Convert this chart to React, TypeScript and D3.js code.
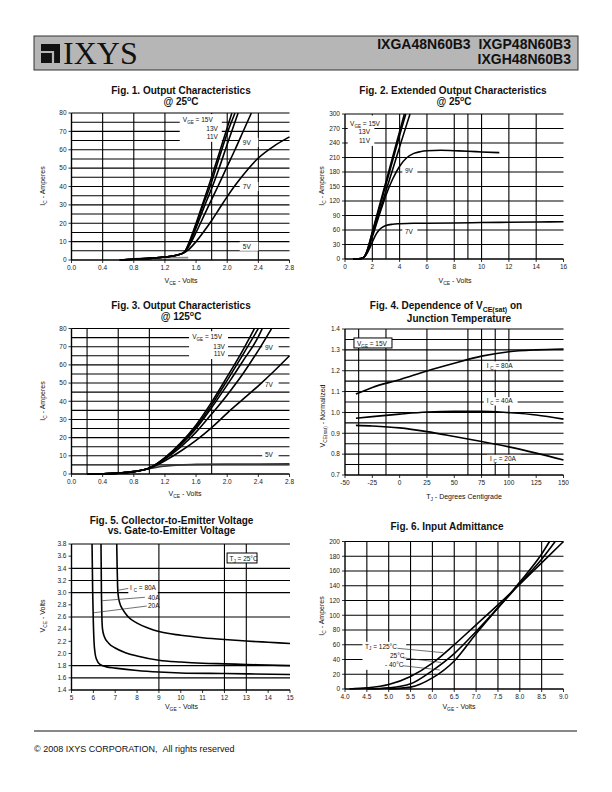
import React from "react";
import * as d3 from "d3";

type Pt = [number, number];
type Part = [string, "n" | "s" | "p"];
type Sc = d3.ScaleLinear<number, number>;

const SANS = "'Liberation Sans', Arial, Helvetica, sans-serif";

// ---------- Fig. 1  Output characteristics @ 25C ----------
const fig1XTicks = [0, 0.4, 0.8, 1.2, 1.6, 2.0, 2.4, 2.8];
const fig1YTicks = [0, 10, 20, 30, 40, 50, 60, 70, 80];
const fig1VGrid = [0.4, 0.8, 1.2, 1.8, 2.0, 2.4];
const fig1HGrid = [5, 10, 15, 20, 25, 30, 35, 40, 45, 50, 55, 60, 65, 70, 75, 80];
const fig1V15: Pt[] = [[0.62, 0], [0.8, 0.4], [1.0, 0.9], [1.2, 1.6], [1.35, 2.6], [1.45, 4.3], [1.5, 8.5], [1.6, 20], [1.7, 32.5], [1.76, 40], [1.9, 58.5], [2.0, 72], [2.06, 80]];
const fig1V13: Pt[] = [[0.62, 0], [0.8, 0.4], [1.0, 0.9], [1.2, 1.6], [1.35, 2.6], [1.45, 4.3], [1.5, 8], [1.6, 19], [1.7, 31], [1.78, 40], [1.9, 56], [2.0, 69], [2.1, 80]];
const fig1V11: Pt[] = [[0.62, 0], [0.8, 0.4], [1.0, 0.9], [1.2, 1.6], [1.35, 2.6], [1.45, 4.3], [1.5, 7.5], [1.6, 17.5], [1.7, 28.5], [1.81, 40], [1.9, 50.5], [2.0, 63], [2.14, 80]];
const fig1V9: Pt[] = [[0.62, 0], [0.8, 0.4], [1.0, 0.9], [1.2, 1.6], [1.35, 2.6], [1.45, 4.3], [1.5, 7], [1.6, 15], [1.7, 24], [1.8, 33], [1.88, 40], [2.0, 51], [2.1, 60], [2.2, 69.5], [2.31, 80]];
const fig1V7: Pt[] = [[0.62, 0], [0.8, 0.4], [1.0, 0.9], [1.2, 1.6], [1.35, 2.6], [1.45, 4], [1.5, 5.5], [1.6, 10], [1.7, 15.5], [1.8, 21.5], [1.9, 28], [2.0, 34.5], [2.1, 40.5], [2.2, 46], [2.4, 55.5], [2.6, 62], [2.8, 67]];
const fig1V5: Pt[] = [[0.62, 0], [0.9, 0.9], [1.2, 1.2], [1.5, 1.3]];

// ---------- Fig. 2  Extended output characteristics @ 25C ----------
const fig2XTicks = [0, 2, 4, 6, 8, 10, 12, 14, 16];
const fig2YTicks = [0, 30, 60, 90, 120, 150, 180, 210, 240, 270, 300];
const fig2VGrid = [2, 3, 4, 6, 8, 9, 10, 12, 14];
const fig2HGrid = [30, 60, 90, 120, 150, 180, 210, 240, 270, 300];
const fig2V15: Pt[] = [[0.6, 0], [1.0, 0.5], [1.3, 2], [1.45, 6], [1.6, 16], [2.0, 56], [2.5, 108], [3.0, 160], [3.5, 212], [4.0, 264], [4.35, 300]];
const fig2V13: Pt[] = [[0.6, 0], [1.0, 0.5], [1.3, 2], [1.45, 6], [1.6, 15], [2.0, 54], [2.5, 104], [3.0, 154], [3.5, 205], [4.0, 256], [4.45, 300]];
const fig2V11: Pt[] = [[0.6, 0], [1.0, 0.5], [1.3, 2], [1.45, 6], [1.6, 14], [2.0, 50], [2.5, 95], [3.0, 141], [3.5, 186], [4.0, 232], [4.5, 277], [4.76, 300]];
const fig2V9: Pt[] = [[0.6, 0], [1.0, 0.5], [1.3, 2], [1.45, 6], [1.6, 13], [2.0, 46], [2.5, 90], [3.0, 132], [3.5, 166], [4.0, 192], [4.5, 209], [5.0, 218], [5.5, 222], [6.0, 224], [7.0, 225], [8.0, 224], [9.0, 223], [10.0, 221.5], [11.3, 220]];
const fig2V7: Pt[] = [[0.6, 0], [1.0, 0.5], [1.3, 2], [1.45, 5.5], [1.6, 11], [1.8, 22], [2.0, 35], [2.25, 50], [2.5, 60], [2.75, 66], [3.0, 69.5], [3.5, 72], [4.0, 73], [5.0, 74], [6.0, 74], [8.0, 74.5], [10, 75.5], [12, 76], [14, 76.5], [16, 77]];

// ---------- Fig. 3  Output characteristics @ 125C ----------
const fig3XTicks = [0, 0.4, 0.8, 1.2, 1.6, 2.0, 2.4, 2.8];
const fig3YTicks = [0, 10, 20, 30, 40, 50, 60, 70, 80];
const fig3VGrid = [0.2, 0.6, 1.0, 1.8];
const fig3HGrid = [5, 10, 15, 20, 25, 30, 35, 40, 45, 50, 55, 60, 65, 70, 75, 80];
const fig3V15: Pt[] = [[0.2, 0], [0.4, 0.15], [0.6, 0.5], [0.8, 1.3], [1.0, 3.3], [1.1, 5.8], [1.2, 9], [1.4, 17], [1.6, 27], [1.8, 39.5], [2.0, 53.5], [2.2, 68], [2.35, 80]];
const fig3V13: Pt[] = [[0.2, 0], [0.4, 0.15], [0.6, 0.5], [0.8, 1.3], [1.0, 3.3], [1.1, 5.7], [1.2, 8.8], [1.4, 16.5], [1.6, 26], [1.8, 38], [2.0, 51.5], [2.2, 65.5], [2.4, 80]];
const fig3V11: Pt[] = [[0.2, 0], [0.4, 0.15], [0.6, 0.5], [0.8, 1.3], [1.0, 3.3], [1.1, 5.6], [1.2, 8.6], [1.4, 16], [1.6, 25], [1.8, 36.5], [2.0, 49], [2.2, 62], [2.4, 75.5], [2.45, 80]];
const fig3V9: Pt[] = [[0.2, 0], [0.4, 0.15], [0.6, 0.5], [0.8, 1.3], [1.0, 3.3], [1.1, 5.4], [1.2, 8.2], [1.4, 14.8], [1.6, 23], [1.8, 33], [2.0, 43.5], [2.2, 55], [2.4, 68], [2.57, 80]];
const fig3V7: Pt[] = [[0.2, 0], [0.4, 0.15], [0.6, 0.5], [0.8, 1.3], [1.0, 3.2], [1.1, 5], [1.2, 7.3], [1.4, 12.5], [1.6, 18.5], [1.8, 25.5], [2.0, 33.5], [2.2, 41], [2.4, 48.5], [2.6, 56.5], [2.8, 65]];
const fig3V5: Pt[] = [[0.2, 0], [0.4, 0.15], [0.6, 0.5], [0.8, 1.3], [1.0, 3.0], [1.1, 3.8], [1.2, 4.3], [1.4, 5.0], [1.6, 5.3], [2.0, 5.5], [2.4, 5.5], [2.8, 5.6]];

// ---------- Fig. 4  VCE(sat) vs junction temperature ----------
const fig4XTicks = [-50, -25, 0, 25, 50, 75, 100, 125, 150];
const fig4YTicks = [0.7, 0.8, 0.9, 1.0, 1.1, 1.2, 1.3, 1.4];
const fig4VGrid = [-37.5, -12.5, 25, 62.5, 75, 87.5, 100];
const fig4HGrid = [0.75, 0.8, 0.85, 0.9, 0.95, 1.0, 1.05, 1.1, 1.15, 1.2, 1.25, 1.3, 1.35, 1.4];
const fig4I80: Pt[] = [[-40, 1.088], [-25, 1.12], [0, 1.157], [25, 1.199], [50, 1.236], [75, 1.27], [100, 1.291], [125, 1.3], [150, 1.304]];
const fig4I40: Pt[] = [[-40, 0.972], [-25, 0.98], [0, 0.992], [25, 1.002], [50, 1.006], [75, 1.006], [100, 0.999], [125, 0.988], [150, 0.968]];
const fig4I20: Pt[] = [[-40, 0.938], [-25, 0.935], [0, 0.926], [25, 0.908], [50, 0.885], [75, 0.861], [100, 0.835], [125, 0.805], [150, 0.772]];

// ---------- Fig. 5  VCE vs VGE ----------
const fig5XTicks = [5, 6, 7, 8, 9, 10, 11, 12, 13, 14, 15];
const fig5YTicks = [1.4, 1.6, 1.8, 2.0, 2.2, 2.4, 2.6, 2.8, 3.0, 3.2, 3.4, 3.6, 3.8];
const fig5VGrid = [9, 12, 13];
const fig5HGrid = [1.6, 1.8, 2.6, 3.0, 3.2, 3.4, 3.8];
const fig5I80: Pt[] = [[7.07, 3.8], [7.09, 3.4], [7.11, 3.1], [7.14, 2.95], [7.2, 2.84], [7.35, 2.72], [7.6, 2.6], [8.0, 2.5], [8.5, 2.42], [9.0, 2.36], [10, 2.3], [11, 2.26], [12, 2.23], [13, 2.205], [14, 2.185], [15, 2.165]];
const fig5I40: Pt[] = [[6.35, 3.8], [6.37, 3.0], [6.39, 2.6], [6.42, 2.4], [6.5, 2.28], [6.7, 2.17], [7.0, 2.09], [7.5, 2.01], [8.0, 1.96], [9.0, 1.89], [10, 1.86], [11, 1.84], [12, 1.83], [13, 1.82], [14, 1.81], [15, 1.8]];
const fig5I20: Pt[] = [[5.94, 3.8], [5.97, 3.0], [6.0, 2.5], [6.03, 2.2], [6.08, 2.0], [6.15, 1.9], [6.3, 1.82], [6.6, 1.78], [7.0, 1.76], [8.0, 1.72], [9.0, 1.695], [10, 1.68], [12, 1.67], [15, 1.655]];

// ---------- Fig. 6  Input admittance ----------
const fig6XTicks = [4.0, 4.5, 5.0, 5.5, 6.0, 6.5, 7.0, 7.5, 8.0, 8.5, 9.0];
const fig6YTicks = [0, 20, 40, 60, 80, 100, 120, 140, 160, 180, 200];
const fig6VGrid = [4.5, 5.0, 5.5, 6.0, 6.5, 7.0, 7.5, 8.0, 8.5];
const fig6HGrid = [20, 40, 60, 80, 100, 120, 140, 160, 180, 200];
const fig6T125: Pt[] = [[4.1, 0], [4.5, 1.5], [5.0, 6], [5.5, 17], [6.0, 35], [6.5, 60], [7.0, 87], [7.5, 114], [8.0, 142], [8.5, 171], [9.0, 200]];
const fig6T25: Pt[] = [[4.5, 0], [5.0, 1.5], [5.5, 7], [6.0, 25], [6.5, 48], [7.0, 78], [7.5, 110], [8.0, 143], [8.5, 176], [8.81, 200]];
const fig6Tm40: Pt[] = [[5.0, 0], [5.5, 2.5], [6.0, 15], [6.5, 38], [7.0, 75], [7.5, 110], [8.0, 145], [8.5, 183], [8.68, 200]];

const f0 = (v: number) => String(v);
const f1 = (v: number) => v.toFixed(1);

function Txt(props: {
  x?: number; y?: number; parts: Part[]; size?: number; anchor?: string;
  weight?: string; transform?: string; fill?: string;
}) {
  const { x = 0, y = 0, parts, size = 7, anchor = "start", weight = "normal", transform, fill = "#111" } = props;
  let cur = 0;
  const spans = parts.map(([t, k], i) => {
    const target = k === "s" ? size * 0.3 : k === "p" ? -size * 0.4 : 0;
    const dy = target - cur;
    cur = target;
    return (
      <tspan key={i} dy={dy} fontSize={k === "n" ? size : size * 0.7}>
        {t}
      </tspan>
    );
  });
  return (
    <text x={x} y={y} textAnchor={anchor} fontFamily={SANS} fontWeight={weight}
      fontSize={size} transform={transform} fill={fill}>
      {spans}
    </text>
  );
}

function Curve({ data, x, y, clip, color = "#000", w = 1.6 }: {
  data: Pt[]; x: Sc; y: Sc; clip: string; color?: string; w?: number;
}) {
  const gen = d3.line<Pt>().x((d) => x(d[0])).y((d) => y(d[1])).curve(d3.curveMonotoneX);
  return <path d={gen(data) ?? ""} fill="none" stroke={color} strokeWidth={w} clipPath={`url(#${clip})`} />;
}

function WBox({ x, y, x0, x1, y0, y1, stroke }: {
  x: Sc; y: Sc; x0: number; x1: number; y0: number; y1: number; stroke?: string;
}) {
  return (
    <rect x={x(x0)} y={y(y1)} width={x(x1) - x(x0)} height={y(y0) - y(y1)}
      fill="#fff" stroke={stroke ?? "none"} strokeWidth={1} />
  );
}

function Panel(props: {
  id: string; left: number; top: number; width: number; height: number;
  xDomain: [number, number]; yDomain: [number, number];
  xTicks: number[]; yTicks: number[]; xFmt: (v: number) => string; yFmt: (v: number) => string;
  vGrid: number[]; hGrid: number[];
  children: (x: Sc, y: Sc, clip: string) => React.ReactNode;
}) {
  const { id, left, top, width, height, xDomain, yDomain, xTicks, yTicks, xFmt, yFmt, vGrid, hGrid } = props;
  const x = d3.scaleLinear().domain(xDomain).range([left, left + width]);
  const y = d3.scaleLinear().domain(yDomain).range([top + height, top]);
  const bottom = top + height;
  return (
    <g>
      <defs>
        <clipPath id={id}>
          <rect x={left} y={top - 1} width={width + 1} height={height + 2} />
        </clipPath>
      </defs>
      {hGrid.map((v) => (
        <line key={"h" + v} x1={left} x2={left + width} y1={y(v)} y2={y(v)} stroke="#000" strokeWidth={1.1} />
      ))}
      {vGrid.map((v) => (
        <line key={"v" + v} x1={x(v)} x2={x(v)} y1={top} y2={bottom} stroke="#000" strokeWidth={1.1} />
      ))}
      <line x1={left} x2={left} y1={top} y2={bottom} stroke="#000" strokeWidth={1.4} />
      <line x1={left} x2={left + width} y1={bottom} y2={bottom} stroke="#000" strokeWidth={1.4} />
      {yTicks.map((v) => (
        <g key={"yt" + v}>
          <line x1={left - 3} x2={left} y1={y(v)} y2={y(v)} stroke="#000" strokeWidth={0.8} />
          <text x={left - 5} y={y(v)} dy="0.35em" textAnchor="end" fontSize={6.5} fontFamily={SANS} fill="#222">
            {yFmt(v)}
          </text>
        </g>
      ))}
      {xTicks.map((v) => (
        <g key={"xt" + v}>
          <line x1={x(v)} x2={x(v)} y1={bottom} y2={bottom + 3} stroke="#000" strokeWidth={0.8} />
          <text x={x(v)} y={bottom + 10} textAnchor="middle" fontSize={6.5} fontFamily={SANS} fill="#222">
            {xFmt(v)}
          </text>
        </g>
      ))}
      {props.children(x, y, id)}
    </g>
  );
}

export default function App() {
  return (
    <svg width={612} height={792} viewBox="0 0 612 792" style={{ position: "absolute", left: 0, top: 0, background: "#fff" }}>
      {/* header */}
      <rect x={34} y={36} width={544} height={34} fill="#b6b6b6" stroke="#333" strokeWidth={1} />
      <rect x={41} y={44} width={19} height={19} fill="#111" />
      <polyline points="41,52 53,52 53,63" fill="none" stroke="#b6b6b6" strokeWidth={2.2} />
      <text x={63} y={64} fontFamily="'Liberation Serif', 'Times New Roman', serif" fontSize={32} fill="#111">IXYS</text>
      <text x={571} y={49} textAnchor="end" fontFamily={SANS} fontWeight="bold" fontSize={14} fill="#111">
        IXGA48N60B3{"\u00a0\u00a0"}IXGP48N60B3
      </text>
      <text x={571} y={64} textAnchor="end" fontFamily={SANS} fontWeight="bold" fontSize={14} fill="#111">IXGH48N60B3</text>

      {/* Fig 1 */}
      <Txt x={181} y={93.5} anchor="middle" weight="bold" size={10} parts={[["Fig. 1. Output Characteristics", "n"]]} />
      <Txt x={181} y={104.5} anchor="middle" weight="bold" size={10} parts={[["@ 25", "n"], ["o", "p"], ["C", "n"]]} />
      <Panel id="c1" left={71.5} top={113} width={218} height={147} xDomain={[0, 2.8]} yDomain={[0, 80]}
        xTicks={fig1XTicks} yTicks={fig1YTicks} xFmt={f1} yFmt={f0} vGrid={fig1VGrid} hGrid={fig1HGrid}>
        {(x, y, c) => (
          <g>
            <WBox x={x} y={y} x0={1.39} x1={1.93} y0={64.3} y1={79.4} />
            <WBox x={x} y={y} x0={2.16} x1={2.4} y0={61.5} y1={66.5} />
            <WBox x={x} y={y} x0={2.16} x1={2.4} y0={37.5} y1={42.5} />
            <WBox x={x} y={y} x0={2.16} x1={2.4} y0={5} y1={10} />
            <Curve data={fig1V5} x={x} y={y} clip={c} color="#8a8a8a" w={1.6} />
            <Curve data={fig1V7} x={x} y={y} clip={c} />
            <Curve data={fig1V9} x={x} y={y} clip={c} />
            <Curve data={fig1V11} x={x} y={y} clip={c} />
            <Curve data={fig1V13} x={x} y={y} clip={c} />
            <Curve data={fig1V15} x={x} y={y} clip={c} />
            <Txt x={x(1.43)} y={y(75.1)} size={6.5} parts={[["V", "n"], ["GE", "s"], [" = 15V", "n"]]} />
            <Txt x={x(1.88)} y={y(70.2)} size={6.5} anchor="end" parts={[["13V", "n"]]} />
            <Txt x={x(1.88)} y={y(65.9)} size={6.5} anchor="end" parts={[["11V", "n"]]} />
            <Txt x={x(2.2)} y={y(62.6)} size={6.5} parts={[["9V", "n"]]} />
            <Txt x={x(2.2)} y={y(38.6)} size={6.5} parts={[["7V", "n"]]} />
            <Txt x={x(2.2)} y={y(6)} size={6.5} parts={[["5V", "n"]]} />
          </g>
        )}
      </Panel>
      <Txt x={181} y={283} anchor="middle" size={7} parts={[["V", "n"], ["CE", "s"], [" - Volts", "n"]]} />
      <Txt transform="translate(45,186) rotate(-90)" anchor="middle" size={7} parts={[["I", "n"], ["C", "s"], [" - Amperes", "n"]]} />

      {/* Fig 2 */}
      <Txt x={453} y={93.5} anchor="middle" weight="bold" size={10} parts={[["Fig. 2. Extended Output Characteristics", "n"]]} />
      <Txt x={454} y={104.5} anchor="middle" weight="bold" size={10} parts={[["@ 25", "n"], ["o", "p"], ["C", "n"]]} />
      <Panel id="c2" left={345} top={114} width={218.5} height={145} xDomain={[0, 16]} yDomain={[0, 300]}
        xTicks={fig2XTicks} yTicks={fig2YTicks} xFmt={f0} yFmt={f0} vGrid={fig2VGrid} hGrid={fig2HGrid}>
        {(x, y, c) => (
          <g>
            <WBox x={x} y={y} x0={0.2} x1={2.15} y0={234} y1={297} />
            <WBox x={x} y={y} x0={4.2} x1={5.3} y0={174} y1={190} />
            <WBox x={x} y={y} x0={4.2} x1={5.3} y0={47} y1={63} />
            <Curve data={fig2V7} x={x} y={y} clip={c} />
            <Curve data={fig2V9} x={x} y={y} clip={c} />
            <Curve data={fig2V11} x={x} y={y} clip={c} />
            <Curve data={fig2V13} x={x} y={y} clip={c} />
            <Curve data={fig2V15} x={x} y={y} clip={c} />
            <Txt x={x(0.37)} y={y(276)} size={6.5} parts={[["V", "n"], ["GE", "s"], [" = 15V", "n"]]} />
            <Txt x={x(1.83)} y={y(258.6)} size={6.5} anchor="end" parts={[["13V", "n"]]} />
            <Txt x={x(1.83)} y={y(241)} size={6.5} anchor="end" parts={[["11V", "n"]]} />
            <Txt x={x(4.39)} y={y(178)} size={6.5} parts={[["9V", "n"]]} />
            <Txt x={x(4.39)} y={y(51.7)} size={6.5} parts={[["7V", "n"]]} />
          </g>
        )}
      </Panel>
      <Txt x={455} y={283} anchor="middle" size={7} parts={[["V", "n"], ["CE", "s"], [" - Volts", "n"]]} />
      <Txt transform="translate(324,186) rotate(-90)" anchor="middle" size={7} parts={[["I", "n"], ["C", "s"], [" - Amperes", "n"]]} />

      {/* Fig 3 */}
      <Txt x={181} y={308.5} anchor="middle" weight="bold" size={10} parts={[["Fig. 3. Output Characteristics", "n"]]} />
      <Txt x={181} y={319.5} anchor="middle" weight="bold" size={10} parts={[["@ 125", "n"], ["o", "p"], ["C", "n"]]} />
      <Panel id="c3" left={71.5} top={328.5} width={218} height={145.5} xDomain={[0, 2.8]} yDomain={[0, 80]}
        xTicks={fig3XTicks} yTicks={fig3YTicks} xFmt={f1} yFmt={f0} vGrid={fig3VGrid} hGrid={fig3HGrid}>
        {(x, y, c) => (
          <g>
            <WBox x={x} y={y} x0={1.51} x1={2.01} y0={63.2} y1={78.5} />
            <WBox x={x} y={y} x0={2.45} x1={2.66} y0={67} y1={72} />
            <WBox x={x} y={y} x0={2.45} x1={2.66} y0={47} y1={52} />
            <WBox x={x} y={y} x0={2.45} x1={2.66} y0={8.3} y1={13.3} />
            <Curve data={fig3V5} x={x} y={y} clip={c} color="#333" w={1.6} />
            <Curve data={fig3V7} x={x} y={y} clip={c} />
            <Curve data={fig3V9} x={x} y={y} clip={c} />
            <Curve data={fig3V11} x={x} y={y} clip={c} />
            <Curve data={fig3V13} x={x} y={y} clip={c} />
            <Curve data={fig3V15} x={x} y={y} clip={c} />
            <Txt x={x(1.55)} y={y(74.1)} size={6.5} parts={[["V", "n"], ["GE", "s"], [" = 15V", "n"]]} />
            <Txt x={x(1.97)} y={y(68.6)} size={6.5} anchor="end" parts={[["13V", "n"]]} />
            <Txt x={x(1.97)} y={y(64.8)} size={6.5} anchor="end" parts={[["11V", "n"]]} />
            <Txt x={x(2.485)} y={y(68.1)} size={6.5} parts={[["9V", "n"]]} />
            <Txt x={x(2.485)} y={y(48)} size={6.5} parts={[["7V", "n"]]} />
            <Txt x={x(2.485)} y={y(9.3)} size={6.5} parts={[["5V", "n"]]} />
          </g>
        )}
      </Panel>
      <Txt x={185} y={496} anchor="middle" size={7} parts={[["V", "n"], ["CE", "s"], [" - Volts", "n"]]} />
      <Txt transform="translate(45,401) rotate(-90)" anchor="middle" size={7} parts={[["I", "n"], ["C", "s"], [" - Amperes", "n"]]} />

      {/* Fig 4 */}
      <Txt x={446} y={308.5} anchor="middle" weight="bold" size={10} parts={[["Fig. 4. Dependence of V", "n"], ["CE(sat)", "s"], [" on", "n"]]} />
      <Txt x={459} y={321.5} anchor="middle" weight="bold" size={10} parts={[["Junction Temperature", "n"]]} />
      <Panel id="c4" left={345} top={329} width={218.5} height={146} xDomain={[-50, 150]} yDomain={[0.7, 1.4]}
        xTicks={fig4XTicks} yTicks={fig4YTicks} xFmt={f0} yFmt={f1} vGrid={fig4VGrid} hGrid={fig4HGrid}>
        {(x, y, c) => (
          <g>
            <WBox x={x} y={y} x0={-41.8} x1={-7} y0={1.309} y1={1.357} stroke="#000" />
            <WBox x={x} y={y} x0={77} x1={108} y0={1.205} y1={1.245} />
            <WBox x={x} y={y} x0={77} x1={108} y0={1.033} y1={1.073} />
            <WBox x={x} y={y} x0={80} x1={111} y0={0.757} y1={0.797} />
            <Curve data={fig4I80} x={x} y={y} clip={c} />
            <Curve data={fig4I40} x={x} y={y} clip={c} />
            <Curve data={fig4I20} x={x} y={y} clip={c} />
            <Txt x={x(-39)} y={y(1.318)} size={6.5} parts={[["V", "n"], ["GE", "s"], [" = 15V", "n"]]} />
            <Txt x={x(79.7)} y={y(1.215)} size={6.5} parts={[["I ", "n"], ["C", "s"], [" = 80A", "n"]]} />
            <Txt x={x(79.7)} y={y(1.043)} size={6.5} parts={[["I ", "n"], ["C", "s"], [" = 40A", "n"]]} />
            <Txt x={x(82.7)} y={y(0.767)} size={6.5} parts={[["I ", "n"], ["C", "s"], [" = 20A", "n"]]} />
          </g>
        )}
      </Panel>
      <Txt x={464} y={498.5} anchor="middle" size={7} parts={[["T", "n"], ["J", "s"], [" - Degrees Centigrade", "n"]]} />
      <Txt transform="translate(325,416) rotate(-90)" anchor="middle" size={7} parts={[["V", "n"], ["CE(sat)", "s"], [" - Normalized", "n"]]} />

      {/* Fig 5 */}
      <Txt x={171.5} y={523.5} anchor="middle" weight="bold" size={10} parts={[["Fig. 5. Collector-to-Emitter Voltage", "n"]]} />
      <Txt x={171.5} y={534} anchor="middle" weight="bold" size={10} parts={[["vs. Gate-to-Emitter Voltage", "n"]]} />
      <Panel id="c5" left={71.5} top={544} width={218.5} height={146} xDomain={[5, 15]} yDomain={[1.4, 3.8]}
        xTicks={fig5XTicks} yTicks={fig5YTicks} xFmt={f0} yFmt={f1} vGrid={fig5VGrid} hGrid={fig5HGrid}>
        {(x, y, c) => (
          <g>
            <WBox x={x} y={y} x0={12.12} x1={13.49} y0={3.488} y1={3.652} stroke="#000" />
            <WBox x={x} y={y} x0={7.6} x1={8.95} y0={2.72} y1={3.17} />
            <Curve data={fig5I80} x={x} y={y} clip={c} />
            <Curve data={fig5I40} x={x} y={y} clip={c} />
            <Curve data={fig5I20} x={x} y={y} clip={c} />
            <line x1={x(7.14)} y1={y(3.04)} x2={x(7.6)} y2={y(3.07)} stroke="#333" strokeWidth={0.7} />
            <line x1={x(6.41)} y1={y(2.868)} x2={x(8.36)} y2={y(2.924)} stroke="#333" strokeWidth={0.7} />
            <line x1={x(6.03)} y1={y(2.67)} x2={x(8.44)} y2={y(2.78)} stroke="#333" strokeWidth={0.7} />
            <Txt x={x(12.23)} y={y(3.52)} size={6.5} parts={[["T", "n"], ["J", "s"], [" = 25\u00b0C", "n"]]} />
            <Txt x={x(7.68)} y={y(3.044)} size={6.5} parts={[["I ", "n"], ["C", "s"], [" = 80A", "n"]]} />
            <Txt x={x(8.5)} y={y(2.879)} size={6.5} parts={[["40A", "n"]]} />
            <Txt x={x(8.5)} y={y(2.74)} size={6.5} parts={[["20A", "n"]]} />
          </g>
        )}
      </Panel>
      <Txt x={181.5} y={709} anchor="middle" size={7} parts={[["V", "n"], ["GE", "s"], [" - Volts", "n"]]} />
      <Txt transform="translate(45,616) rotate(-90)" anchor="middle" size={7} parts={[["V", "n"], ["CE", "s"], [" - Volts", "n"]]} />

      {/* Fig 6 */}
      <Txt x={447} y={529.5} anchor="middle" weight="bold" size={10} parts={[["Fig. 6. Input Admittance", "n"]]} />
      <Panel id="c6" left={345} top={541.5} width={218.5} height={147.5} xDomain={[4, 9]} yDomain={[0, 200]}
        xTicks={fig6XTicks} yTicks={fig6YTicks} xFmt={f1} yFmt={f0} vGrid={fig6VGrid} hGrid={fig6HGrid}>
        {(x, y, c) => (
          <g>
            <WBox x={x} y={y} x0={4.4} x1={5.4} y0={26} y1={64} />
            <Curve data={fig6T125} x={x} y={y} clip={c} />
            <Curve data={fig6T25} x={x} y={y} clip={c} />
            <Curve data={fig6Tm40} x={x} y={y} clip={c} />
            <line x1={x(5.2)} y1={y(55.2)} x2={x(6.25)} y2={y(49.2)} stroke="#333" strokeWidth={0.7} />
            <line x1={x(5.32)} y1={y(42.4)} x2={x(6.2)} y2={y(36)} stroke="#333" strokeWidth={0.7} />
            <line x1={x(5.32)} y1={y(31.6)} x2={x(6.17)} y2={y(25.8)} stroke="#333" strokeWidth={0.7} />
            <Txt x={x(4.46)} y={y(54.9)} size={6.5} parts={[["T", "n"], ["J", "s"], [" = 125\u00b0C", "n"]]} />
            <Txt x={x(5.03)} y={y(42)} size={6.5} parts={[["25\u00b0C", "n"]]} />
            <Txt x={x(4.915)} y={y(30.5)} size={6.5} parts={[["- 40\u00b0C", "n"]]} />
          </g>
        )}
      </Panel>
      <Txt x={459} y={709} anchor="middle" size={7} parts={[["V", "n"], ["GE", "s"], [" - Volts", "n"]]} />
      <Txt transform="translate(324,616) rotate(-90)" anchor="middle" size={7} parts={[["I", "n"], ["C", "s"], [" - Amperes", "n"]]} />

      {/* footer */}
      <line x1={34} x2={577} y1={731} y2={731} stroke="#111" strokeWidth={1} />
      <text x={34} y={752} fontFamily={SANS} fontSize={9} fill="#111">
        {"\u00a9 2008 IXYS CORPORATION,\u00a0\u00a0All rights reserved"}
      </text>
    </svg>
  );
}
